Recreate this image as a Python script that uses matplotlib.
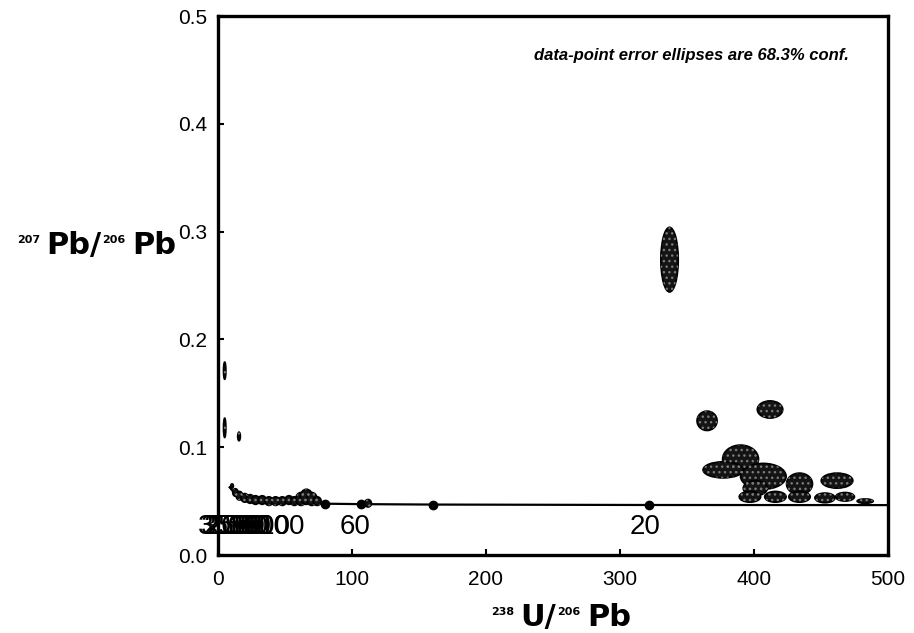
import matplotlib
matplotlib.use("Agg")
import matplotlib.pyplot as plt
from matplotlib.patches import Ellipse

plt.rcParams['font.family'] = ['Liberation Sans', 'DejaVu Sans']

# concordia curve (238U/206Pb, 207Pb/206Pb)
conc_x = [8.718, 12.40, 15.62, 20.99, 31.73, 63.97, 80.08, 106.9, 160.7,
          321.8, 503.0]
conc_y = [0.0628, 0.0572, 0.0547, 0.0523, 0.0501, 0.0480, 0.0476, 0.0472,
          0.0468, 0.0464, 0.0463]

# age marks on the concordia
mark_x = [321.8, 160.7, 106.9, 80.08]
mark_y = [0.0464, 0.0468, 0.0472, 0.0476]

# age labels (Ma) and where they sit
age_labels = ['3500', '3000', '2500', '2000', '1500', '1000', '500', '100', '60', '20']
age_label_x = [8.5, 10.5, 12.5, 14.5, 17, 31, 37, 48, 102, 319]
age_label_y = 0.026

# data-point error ellipses: centre x, centre y, half-width, half-height
ell_x = [5.0, 5.0, 15.7, 10.5, 13, 16, 20, 24, 28, 33, 38, 43, 48, 53, 57,
         62, 66, 70, 74, 112,
         337, 365, 412, 390, 377, 407, 434, 462, 401,
         397, 416, 434, 453, 468, 483]
ell_y = [0.171, 0.118, 0.110, 0.064, 0.058, 0.055, 0.053, 0.052, 0.051, 0.051,
         0.050, 0.050, 0.050, 0.051, 0.050, 0.052, 0.054, 0.052, 0.050, 0.048,
         0.274, 0.1245, 0.135, 0.089, 0.079, 0.073, 0.066, 0.069, 0.062,
         0.054, 0.054, 0.054, 0.053, 0.054, 0.050]
ell_w = [0.9, 0.9, 1.0, 1.0, 2.0, 2.5, 2.8, 3, 3, 3, 3, 3, 3, 3, 3,
         4, 4.5, 4, 3, 2.5,
         6.5, 7.5, 9.5, 13.4, 15, 17, 9.7, 11.8, 9,
         8, 8, 8, 7.5, 7, 6]
ell_h = [0.008, 0.009, 0.004, 0.002, 0.0035, 0.004, 0.004, 0.004, 0.004, 0.004,
         0.004, 0.004, 0.004, 0.004, 0.004, 0.006, 0.007, 0.006, 0.004, 0.0035,
         0.030, 0.009, 0.008, 0.013, 0.0075, 0.012, 0.010, 0.007, 0.007,
         0.005, 0.005, 0.005, 0.0045, 0.004, 0.002]

fig = plt.figure(figsize=(9.14, 6.33), dpi=100)
ax = fig.add_axes([0.2385, 0.1232, 0.733, 0.8515])

ax.plot(conc_x, conc_y, color='black', lw=1.6, zorder=2)
ax.plot(mark_x, mark_y, 'o', color='black', ms=6, zorder=3)

for x, y, w, h in zip(ell_x, ell_y, ell_w, ell_h):
    ax.add_patch(Ellipse((x, y), 2 * w, 2 * h, facecolor='#141414',
                         edgecolor='black', lw=1.2, zorder=4))
    ax.add_patch(Ellipse((x, y), 2 * w, 2 * h, fill=False, hatch='...',
                         edgecolor='#7a7a7a', lw=0, zorder=5))

for lab, lx in zip(age_labels, age_label_x):
    ax.text(lx, age_label_y, lab, fontsize=20, ha='center', va='center',
            clip_on=False, zorder=6)

ax.text(471, 0.463, 'data-point error ellipses are 68.3% conf.',
        fontsize=12, fontweight='bold', fontstyle='italic', ha='right', va='center')

ax.set_xlim(0, 500)
ax.set_ylim(0, 0.5)
ax.set_xticks([0, 100, 200, 300, 400, 500])
ax.set_yticks([0.0, 0.1, 0.2, 0.3, 0.4, 0.5])
ax.set_yticklabels(['0.0', '0.1', '0.2', '0.3', '0.4', '0.5'])
ax.tick_params(direction='in', length=4, width=1.5, labelsize=15)
ax.tick_params(axis='x', pad=11)
ax.tick_params(axis='y', pad=8)
for sp in ax.spines.values():
    sp.set_linewidth(2.4)


def iso_label(x_px, base_px, mass1, el1, mass2, el2):
    big = dict(fontsize=22, fontweight='bold', family='DejaVu Sans')
    small = dict(fontsize=8, fontweight='bold', family='DejaVu Sans')
    t1 = fig.text(x_px / 914, 1 - base_px / 633, el1, ha='left', va='baseline', **big)
    ax.annotate(mass1, xy=(0, 1), xycoords=t1, xytext=(-4, -3),
                textcoords='offset points', ha='right', va='top',
                annotation_clip=False, **small)
    s2 = ax.annotate(mass2, xy=(1, 1), xycoords=t1, xytext=(1, -3),
                     textcoords='offset points', ha='left', va='top',
                     annotation_clip=False, **small)
    ax.annotate(el2, xy=(1, 0), xycoords=(s2, t1), xytext=(5, 0),
                textcoords='offset points', ha='left', va='bottom',
                annotation_clip=False, **big)


iso_label(46, 254, '207', 'Pb/', '206', 'Pb')
iso_label(520, 626, '238', 'U/', '206', 'Pb')

fig.savefig('out.png', dpi=100)
